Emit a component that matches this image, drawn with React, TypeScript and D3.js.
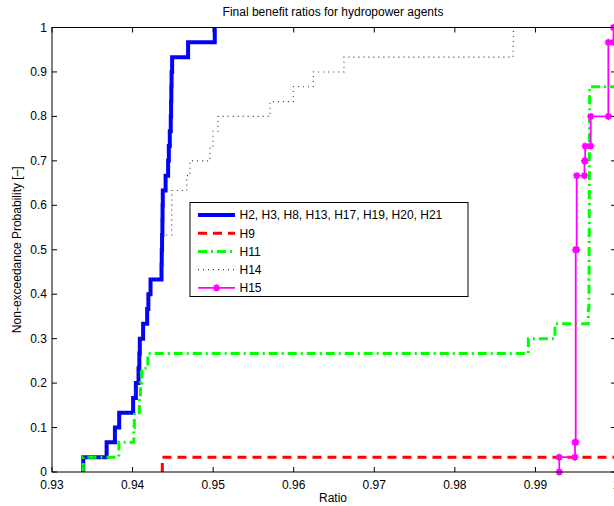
import React, { useEffect, useRef } from 'react';
import * as d3 from 'd3';

// sample values (n = 30 per agent)
const h2group = [
  0.93388, 0.93678, 0.93781, 0.93834, 0.94007, 0.94041, 0.94074, 0.94084, 0.9409, 0.94131,
  0.94181, 0.94196, 0.94223, 0.94359, 0.94362, 0.94366, 0.9437, 0.94372, 0.94375, 0.9441,
  0.94441, 0.9445, 0.94462, 0.94474, 0.94478, 0.94481, 0.94484, 0.94491, 0.94689, 0.9502,
];
const h9 = [0.94369]; // remaining samples lie beyond the axis
const h11 = [
  0.93388, 0.9383, 0.94016, 0.94022, 0.94084, 0.94097, 0.94115, 0.9419, 0.98912, 0.99243,
  0.99656, 0.99664, 0.99665, 0.99666, 0.99667, 0.99667, 0.99668, 0.99668, 0.99669, 0.99669,
  0.9967, 0.9967, 0.99671, 0.99671, 0.99672, 0.99672,
];
const h14 = [
  0.93388, 0.93678, 0.93781, 0.93834, 0.94007, 0.94041, 0.94074, 0.94084, 0.9409, 0.94131,
  0.94181, 0.94196, 0.94223, 0.94359, 0.94362, 0.94366, 0.94485, 0.94486, 0.94487, 0.94672,
  0.94713, 0.94961, 0.94998, 0.9506, 0.95706, 0.95995, 0.96243, 0.96624, 0.98722, 0.98726,
];
const h15 = [
  0.99296, 0.99491, 0.995, 0.995, 0.995, 0.995, 0.995, 0.995, 0.995, 0.995,
  0.995, 0.995, 0.995, 0.995, 0.995, 0.99512, 0.99512, 0.99512, 0.99512, 0.99512,
  0.99609, 0.99618, 0.99686, 0.99686, 0.99905, 0.99905, 0.99905, 0.99905, 0.99905, 0.99969,
];
const N = 30;

const xTicks = [0.93, 0.94, 0.95, 0.96, 0.97, 0.98, 0.99, 1];
const xTickLabels = ['0.93', '0.94', '0.95', '0.96', '0.97', '0.98', '0.99', '1'];
const yTicks = [0, 0.1, 0.2, 0.3, 0.4, 0.5, 0.6, 0.7, 0.8, 0.9, 1];
const yTickLabels = ['0', '0.1', '0.2', '0.3', '0.4', '0.5', '0.6', '0.7', '0.8', '0.9', '1'];

const series = [
  { name: 'H2, H3, H8, H13, H17, H19, H20, H21', values: h2group, color: '#0000ff', width: 4, dash: null, marker: false },
  { name: 'H9', values: h9, color: '#ff0000', width: 3, dash: '9,6', marker: false },
  { name: 'H11', values: h11, color: '#00ff00', width: 3, dash: '9,4,2,4', marker: false },
  { name: 'H14', values: h14, color: '#333333', width: 1.1, dash: '1,4', marker: false },
  { name: 'H15', values: h15, color: '#ff00ff', width: 1.8, dash: null, marker: true },
];

// stairs vertices of the empirical CDF
function ecdfStairs(values: number[], xEnd: number) {
  const sorted = values.slice().sort((a, b) => a - b);
  const pts: [number, number][] = [];
  let count = 0;
  let i = 0;
  while (i < sorted.length) {
    const v = sorted[i];
    let j = i;
    while (j < sorted.length && sorted[j] === v) j++;
    pts.push([v, count / N]);
    count += j - i;
    pts.push([v, count / N]);
    i = j;
  }
  if (count < N) pts.push([xEnd, count / N]);
  return pts;
}

const App = () => {
  const svgRef = useRef<SVGSVGElement>(null);
  const width = 614;
  const height = 506;

  useEffect(() => {
    const svg = d3.select(svgRef.current);
    svg.selectAll('*').remove();

    const margin = { top: 27.5, right: -2, bottom: 34, left: 52 };
    const x = d3.scaleLinear().domain([0.93, 1]).range([margin.left, width - margin.right]);
    const y = d3.scaleLinear().domain([0, 1]).range([height - margin.bottom, margin.top]);
    const font = '"Liberation Sans", Arial, Helvetica, sans-serif';

    svg.append('defs').append('clipPath').attr('id', 'plotclip')
      .append('rect')
      .attr('x', x(0.93)).attr('y', y(1) - 2)
      .attr('width', x(1) - x(0.93)).attr('height', y(0) - y(1) + 2);

    const line = d3.line<[number, number]>().x(d => x(d[0])).y(d => y(d[1]));

    const plot = svg.append('g').attr('clip-path', 'url(#plotclip)');
    series.forEach(s => {
      const pts = ecdfStairs(s.values, 1.01);
      plot.append('path')
        .attr('d', line(pts))
        .attr('fill', 'none')
        .attr('stroke', s.color)
        .attr('stroke-width', s.width)
        .attr('stroke-dasharray', s.dash)
        .attr('stroke-linejoin', 'miter');
    });

    // asterisk markers for H15
    const star = (g: any, cx: number, cy: number, color: string) => {
      const r = 3.5;
      const d = r * 0.72;
      g.append('path')
        .attr('d', `M${cx - r},${cy}L${cx + r},${cy}M${cx},${cy - r}L${cx},${cy + r}M${cx - d},${cy - d}L${cx + d},${cy + d}M${cx - d},${cy + d}L${cx + d},${cy - d}`)
        .attr('stroke', color)
        .attr('stroke-width', 1.8)
        .attr('fill', 'none');
    };
    const mk = svg.append('g');
    ecdfStairs(h15, 1.01).forEach(p => star(mk, x(p[0]), y(p[1]), '#ff00ff'));

    // axes box and ticks (inward, on all sides)
    const ax = svg.append('g').attr('stroke', '#000').attr('stroke-width', 1);
    ax.append('rect')
      .attr('x', x(0.93)).attr('y', y(1))
      .attr('width', x(1) - x(0.93)).attr('height', y(0) - y(1))
      .attr('fill', 'none');
    const tl = 5;
    xTicks.forEach(t => {
      ax.append('line').attr('x1', x(t)).attr('x2', x(t)).attr('y1', y(0)).attr('y2', y(0) - tl);
      ax.append('line').attr('x1', x(t)).attr('x2', x(t)).attr('y1', y(1)).attr('y2', y(1) + tl);
    });
    yTicks.forEach(t => {
      ax.append('line').attr('x1', x(0.93)).attr('x2', x(0.93) + tl).attr('y1', y(t)).attr('y2', y(t));
      ax.append('line').attr('x1', x(1)).attr('x2', x(1) - tl).attr('y1', y(t)).attr('y2', y(t));
    });

    const txt = svg.append('g').attr('font-family', font).attr('font-size', 12).attr('fill', '#000');
    xTicks.forEach((t, i) => {
      txt.append('text').attr('x', x(t)).attr('y', y(0) + 17).attr('text-anchor', 'middle')
        .text(xTickLabels[i]);
    });
    yTicks.forEach((t, i) => {
      txt.append('text').attr('x', x(0.93) - 5).attr('y', y(t) + 4).attr('text-anchor', 'end')
        .text(yTickLabels[i]);
    });
    txt.append('text').attr('x', 333).attr('y', 502).attr('text-anchor', 'middle').text('Ratio');
    txt.append('text').attr('x', 333).attr('y', 16).attr('text-anchor', 'middle')
      .text('Final benefit ratios for hydropower agents');
    txt.append('text').attr('transform', `translate(21,${y(0.5)}) rotate(-90)`)
      .attr('text-anchor', 'middle').text('Non-exceedance Probability [\u2013]');

    // legend
    const lg = svg.append('g');
    lg.append('rect').attr('x', 190).attr('y', 202.5).attr('width', 278).attr('height', 94)
      .attr('fill', '#fff').attr('stroke', '#000').attr('stroke-width', 1);
    series.forEach((s, i) => {
      const ly = 215 + i * 18.2;
      lg.append('line').attr('x1', 198).attr('x2', 235).attr('y1', ly).attr('y2', ly)
        .attr('stroke', s.color).attr('stroke-width', s.width).attr('stroke-dasharray', s.dash);
      if (s.marker) star(lg, 216.5, ly, s.color);
      lg.append('text').attr('x', 239.5).attr('y', ly + 4.3)
        .attr('font-family', font).attr('font-size', 12).text(s.name);
    });
  }, []);

  return (
    <svg ref={svgRef} width={width} height={height}
      style={{ position: 'absolute', left: 0, top: 0, background: '#fff' }} />
  );
};

export default App;
